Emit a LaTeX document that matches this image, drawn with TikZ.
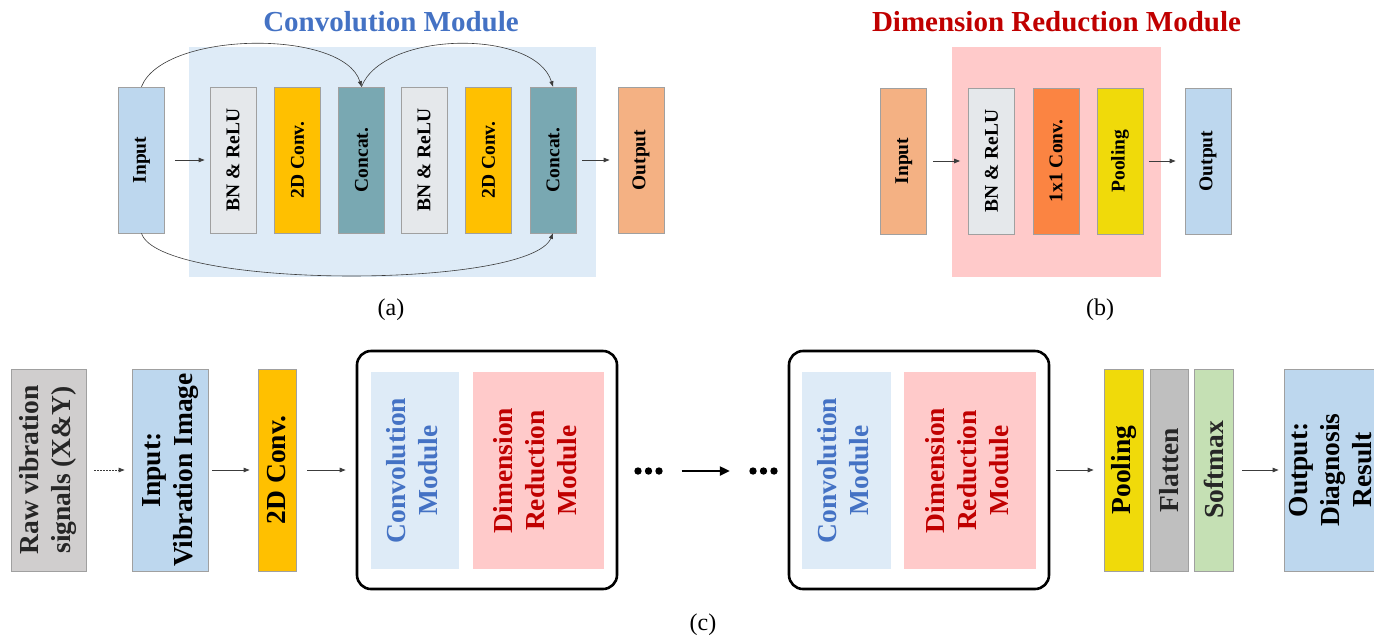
\documentclass[tikz,border=0pt]{standalone}
\usepackage{fontspec}
\setmainfont{Liberation Serif}
\usetikzlibrary{arrows.meta}

\definecolor{convblue}{HTML}{4472C4}
\definecolor{drred}{HTML}{C00000}
\definecolor{bgblue}{HTML}{DEEBF7}
\definecolor{bgpink}{HTML}{FFCACA}
\definecolor{inblue}{HTML}{BDD7EE}
\definecolor{bngray}{HTML}{E5E8EB}
\definecolor{convyellow}{HTML}{FFC000}
\definecolor{concatteal}{HTML}{79A8B2}
\definecolor{outorange}{HTML}{F4B183}
\definecolor{oneorange}{HTML}{FB8442}
\definecolor{poolyellow}{HTML}{F0DA0A}
\definecolor{rawgray}{HTML}{D0CECE}
\definecolor{flatgray}{HTML}{BFBFBF}
\definecolor{softgreen}{HTML}{C5E0B4}
\definecolor{edgegray}{HTML}{A0A0A0}
\definecolor{arrowgray}{HTML}{3C3C3C}
\definecolor{darktext}{HTML}{262626}

\newcommand\hdrfont{\fontsize{29}{34}\selectfont\bfseries}
\newcommand\smallbxfont{\fontsize{19.5}{23}\selectfont\bfseries}
\newcommand\largebxfont{\fontsize{27.5}{32}\selectfont\bfseries}
\newcommand\capsfont{\fontsize{24}{28}\selectfont}
\newcommand\vtxt[1]{\rotatebox{90}{\begin{tabular}{@{}c@{}}#1\end{tabular}}}

\begin{document}
\begin{tikzpicture}[x=1pt,y=-1pt,
  blk/.style={draw=edgegray, line width=0.7pt, inner sep=0pt},
  smallblk/.style={blk, minimum width=46pt, minimum height=146pt, font=\smallbxfont},
  tallblk/.style={blk, minimum height=202pt, font=\largebxfont},
  module/.style={inner sep=0pt, minimum height=197pt, font=\largebxfont},
  stage/.style={draw=black, line width=2.6pt, rounded corners=14pt,
    minimum width=260pt, minimum height=238pt, inner sep=0pt},
  panel/.style={inner sep=0pt, minimum height=230pt},
  flow/.style={draw=arrowgray, line width=0.9pt, -{Triangle[length=6pt,width=4.5pt]}},
  skip/.style={draw=arrowgray, line width=0.6pt, -{Triangle[length=5.5pt,width=4pt]}},
  bigflow/.style={draw=black, line width=2.2pt, -{Triangle[length=10pt,width=9pt]}},
  dotspot/.style={inner sep=0pt, minimum width=29pt, minimum height=8pt},
]
\useasboundingbox (0,0) rectangle (1374,641);
\clip (0,0) rectangle (1374,641);

% ---------- (a) convolution module ----------
\node[panel, fill=bgblue, minimum width=407pt] (bgA) at (392.5,162) {};
\node[font=\hdrfont, text=convblue] (titleA) at (391,22) {Convolution Module};
\node[smallblk, fill=inblue]     (inA)  at (141.5,160) {\rotatebox{90}{Input}};
\node[smallblk, fill=bngray]     (bnA1) at (233,160)   {\rotatebox{90}{BN \& ReLU}};
\node[smallblk, fill=convyellow] (cvA1) at (297.5,160) {\rotatebox{90}{2D Conv.}};
\node[smallblk, fill=concatteal] (ctA1) at (361.5,160) {\rotatebox{90}{Concat.}};
\node[smallblk, fill=bngray]     (bnA2) at (424,160)   {\rotatebox{90}{BN \& ReLU}};
\node[smallblk, fill=convyellow] (cvA2) at (488.5,160) {\rotatebox{90}{2D Conv.}};
\node[smallblk, fill=concatteal] (ctA2) at (553,160)   {\rotatebox{90}{Concat.}};
\node[smallblk, fill=outorange]  (outA) at (641,160)   {\rotatebox{90}{Output}};

\draw[flow, shorten <=10pt, shorten >=5pt] (inA) -- (bnA1);
\draw[flow, shorten <=6pt, shorten >=8pt] (ctA2) -- (outA);
\draw[skip] (inA.north) .. controls +(22,-56) and +(-18,-58) .. (ctA1.north);
\draw[skip] (ctA1.north) .. controls +(22,-56) and +(-18,-58) .. (ctA2.north);
\draw[skip] (inA.south) .. controls +(18,56) and +(-24,56) .. (ctA2.south);
\node[font=\capsfont] (capA) at (391,310) {(a)};

% ---------- (b) dimension reduction module ----------
\node[panel, fill=bgpink, minimum width=209pt] (bgB) at (1056.5,162) {};
\node[font=\hdrfont, text=drred] (titleB) at (1056.5,22) {Dimension Reduction Module};
\node[smallblk, fill=outorange]  (inB)   at (903.7,161) {\rotatebox{90}{Input}};
\node[smallblk, fill=bngray]     (bnB)   at (991.5,161) {\rotatebox{90}{BN \& ReLU}};
\node[smallblk, fill=oneorange]  (oneB)  at (1056,161)  {\rotatebox{90}{1x1 Conv.}};
\node[smallblk, fill=poolyellow] (poolB) at (1120,161)  {\rotatebox{90}{Pooling}};
\node[smallblk, fill=inblue]     (outB)  at (1208,161)  {\rotatebox{90}{Output}};

\draw[flow, shorten <=6pt, shorten >=8pt] (inB) -- (bnB);
\draw[flow, shorten <=6pt, shorten >=9pt] (poolB) -- (outB);
\node[font=\capsfont] (capB) at (1100,310) {(b)};

% ---------- (c) overall network ----------
\node[tallblk, fill=rawgray, text=darktext, minimum width=75pt] (raw) at (48.5,470)
  {\vtxt{Raw vibration\\signals (X\&Y)}};
\node[tallblk, fill=inblue, minimum width=76pt] (inC) at (170,470)
  {\vtxt{Input:\\Vibration Image}};
\node[tallblk, fill=convyellow, minimum width=38pt] (cvC) at (277,470)
  {\rotatebox{90}{2D Conv.}};

\node[stage] (stg1) at (487,470) {};
\node[module, fill=bgblue, text=convblue, minimum width=88pt] (cm1) at (415,470.5)
  {\vtxt{Convolution\\Module}};
\node[module, fill=bgpink, text=drred, minimum width=131pt] (dr1) at (538.5,470.5)
  {\vtxt{Dimension\\Reduction\\Module}};

\node[dotspot] (dots1) at (648.5,471) {};
\node[dotspot] (dots2) at (763.5,471) {};
\foreach \dx in {-10.5,0,10.5} {
  \fill ([xshift=\dx pt]dots1.center) circle (3.7pt);
  \fill ([xshift=\dx pt]dots2.center) circle (3.7pt);
}

\node[stage] (stg2) at (919,470) {};
\node[module, fill=bgblue, text=convblue, minimum width=89pt] (cm2) at (846.5,470.5)
  {\vtxt{Convolution\\Module}};
\node[module, fill=bgpink, text=drred, minimum width=132pt] (dr2) at (970,470.5)
  {\vtxt{Dimension\\Reduction\\Module}};

\node[tallblk, fill=poolyellow, minimum width=39pt] (poolC) at (1123.5,470)
  {\rotatebox{90}{Pooling}};
\node[tallblk, fill=flatgray, text=darktext, minimum width=38pt] (flatC) at (1169,470)
  {\rotatebox{90}{Flatten}};
\node[tallblk, fill=softgreen, text=darktext, minimum width=39pt] (softC) at (1213.5,470)
  {\rotatebox{90}{Softmax}};
\node[tallblk, fill=inblue, minimum width=98pt] (outC) at (1333,470)
  {\vtxt{Output:\\Diagnosis\\Result}};

\draw[flow, dash pattern=on 1.5pt off 1.5pt, shorten <=8pt, shorten >=7pt] (raw) -- (inC);
\draw[flow, shorten <=4pt, shorten >=8pt] (inC) -- (cvC);
\draw[flow, shorten <=11pt, shorten >=10pt] (cvC) -- (stg1);
\draw[bigflow, shorten <=18.5pt, shorten >=19pt] (dots1) -- (dots2);
\draw[flow, shorten <=6pt, shorten >=10pt] (stg2) -- (poolC);
\draw[flow, shorten <=9pt, shorten >=5pt] (softC) -- (outC);
\node[font=\capsfont] (capC) at (703,625) {(c)};
\end{tikzpicture}
\end{document}
